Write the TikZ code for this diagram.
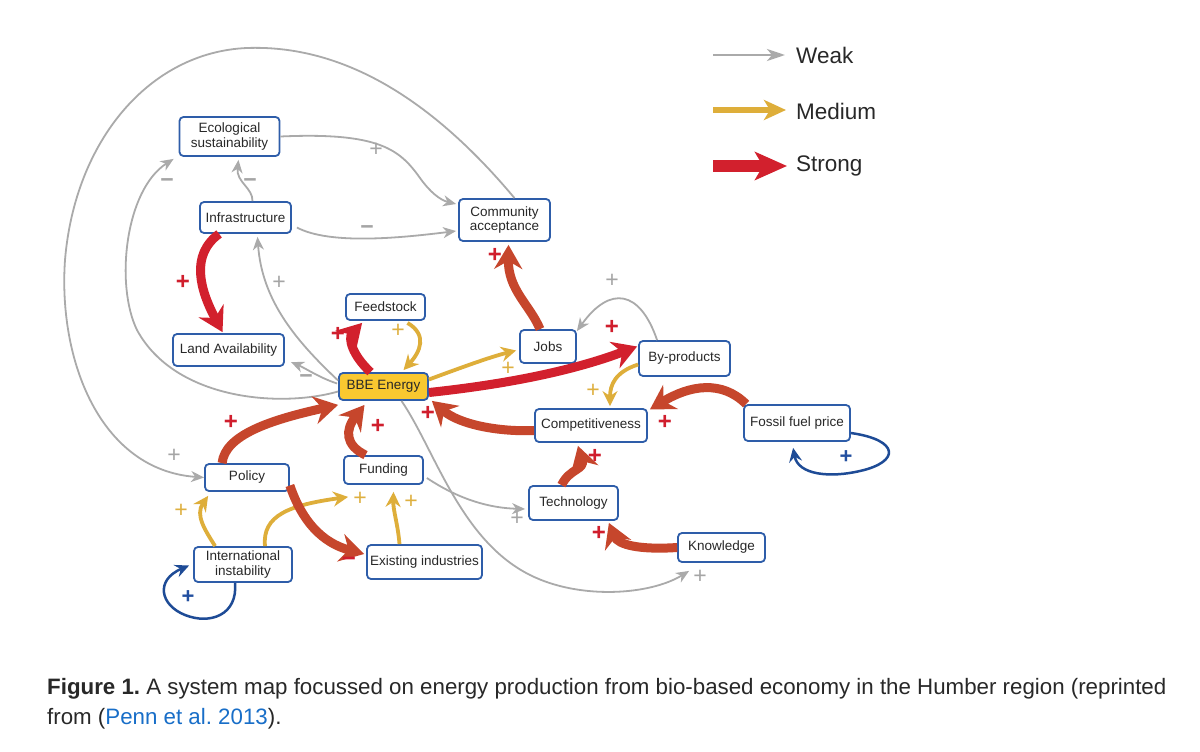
\documentclass[tikz,border=0pt]{standalone}
\usepackage{fontspec}
\setmainfont{Liberation Sans}
\usetikzlibrary{arrows.meta,calc}
\definecolor{nodeblue}{RGB}{46,93,169}
\definecolor{bbefill}{RGB}{249,200,48}
\definecolor{weakgray}{RGB}{170,170,170}
\definecolor{medgold}{RGB}{222,174,58}
\definecolor{strongred}{RGB}{210,32,45}
\definecolor{strongor}{RGB}{198,70,44}
\definecolor{loopblue}{RGB}{30,75,150}
\definecolor{textdark}{RGB}{40,40,40}
\definecolor{capgray}{RGB}{40,40,40}
\definecolor{linkblue}{RGB}{24,110,200}
\definecolor{sgray}{RGB}{165,165,165}
\definecolor{sred}{RGB}{208,30,45}
\definecolor{sgold}{RGB}{222,176,64}
\definecolor{sblue}{RGB}{35,80,160}
\tikzset{
  box/.style={draw=nodeblue, line width=1.8pt, rounded corners=4pt, fill=white, inner sep=0pt,
    align=center, text=textdark, font=\fontsize{13.5}{14.5}\selectfont},
  wk/.style={draw=weakgray, line width=1.8pt, -{Stealth[length=13pt,width=11pt,inset=4pt]}},
  md/.style={draw=medgold, line width=3.8pt, -{Stealth[length=15pt,width=15pt,inset=5pt]}},
  stR/.style={draw=strongred, line width=9pt, -{Stealth[length=24pt,width=28pt,inset=8pt]}},
  stO/.style={draw=strongor, line width=9pt, -{Stealth[length=24pt,width=28pt,inset=8pt]}},
  lp/.style={draw=loopblue, line width=2.5pt, -{Stealth[length=14pt,width=13pt,inset=5pt]}},
  sgR/.style={text=sred, inner sep=0pt, font=\fontsize{24}{24}\selectfont\bfseries},
  sgG/.style={text=sgold, inner sep=0pt, font=\fontsize{23}{23}\selectfont},
  sgW/.style={text=sgray, inner sep=0pt, font=\fontsize{23}{23}\selectfont},
  sgB/.style={text=sblue, inner sep=0pt, font=\fontsize{22}{22}\selectfont\bfseries},
  legtext/.style={anchor=west, inner sep=0pt, text=textdark, font=\fontsize{22.5}{24}\selectfont},
}
\frenchspacing
\begin{document}
\begin{tikzpicture}[x=1pt,y=-1pt]
\useasboundingbox (0,0) rectangle (1200,752);
\fill[white] (0,0) rectangle (1200,752);

% nodes
\node[box, minimum width=100pt, minimum height=39pt] (eco) at (229.5,136.5) {Ecological\\sustainability};
\node[box, minimum width=91pt, minimum height=31pt] (infra) at (245.5,217.5) {Infrastructure};
\node[box, minimum width=91pt, minimum height=42pt] (comm) at (504.5,220) {Community\\acceptance};
\node[box, minimum width=79pt, minimum height=26pt] (feed) at (385.5,307) {Feedstock};
\node[box, minimum width=111pt, minimum height=32pt] (land) at (228.5,350) {Land Availability};
\node[box, fill=bbefill, minimum width=89pt, minimum height=27pt] (bbe) at (383.5,386.5) {BBE Energy};
\node[box, minimum width=56pt, minimum height=33pt] (jobs) at (548,346.5) {Jobs};
\node[box, minimum width=91pt, minimum height=35pt] (byp) at (684.5,358.5) {By-products};
\node[box, minimum width=112pt, minimum height=33pt] (comp) at (591,425.5) {Competitiveness};
\node[box, minimum width=106pt, minimum height=36pt] (fossil) at (797,423) {Fossil fuel price};
\node[box, minimum width=89pt, minimum height=34pt] (tech) at (573.5,503) {Technology};
\node[box, minimum width=87pt, minimum height=29pt] (know) at (721.5,547.5) {Knowledge};
\node[box, minimum width=79pt, minimum height=28pt] (fund) at (383.5,470) {Funding};
\node[box, minimum width=84pt, minimum height=27pt] (policy) at (247,477.5) {Policy};
\node[box, minimum width=98pt, minimum height=35pt] (intl) at (243,564.5) {International\\instability};
\node[box, minimum width=115pt, minimum height=34pt] (exist) at (424.5,562) {Existing industries};

% weak connectors
\draw[wk] ($(comm.north)+(10,0)$) .. controls (420,85) and (330,45) .. (247,48)
   .. controls (150,52) and (75,140) .. (65,260) .. controls (58,360) and (100,470) .. (policy.west);
\draw[wk] ($(bbe.west)+(0,5)$) .. controls (280,408) and (175,400) .. (137,330)
   .. controls (115,285) and (125,190) .. ($(eco.south west)+(-5,2)$);
\draw[wk] ($(bbe.west)+(-1,-3)$) .. controls (320,378) and (305,368) .. ($(land.east)+(6,12)$);
\draw[wk] ($(bbe.west)+(0,-6)$) .. controls (295,340) and (262,300) .. ($(infra.south)+(12,3)$);
\draw[wk] ($(infra.north)+(7,0)$) .. controls (253,188) and (236,182) .. ($(eco.south)+(9,3)$);
\draw[wk] (eco.east) .. controls (380,132) and (400,150) .. (420,178)
   .. controls (430,192) and (440,200) .. ($(comm.west)+(-2,-16)$);
\draw[wk] ($(infra.east)+(5,10)$) .. controls (330,245) and (400,238) .. ($(comm.west)+(-2,11)$);
\draw[wk] ($(byp.north west)+(19,0)$) .. controls (640,290) and (610,285) .. ($(jobs.north east)+(0,2)$);
\draw[wk] ($(fund.east)+(3,8)$) .. controls (460,500) and (490,508) .. ($(tech.west)+(-3,6)$);
\draw[wk] ($(bbe.south)+(18,0)$) .. controls (435,450) and (460,540) .. (530,575)
   .. controls (580,600) and (650,595) .. ($(know.south west)+(12,8)$);

% medium connectors
\draw[md] ($(bbe.east)+(0,-7)$) .. controls (460,368) and (490,357) .. ($(jobs.west)+(-3,4)$);
\draw[md] ($(feed.south)+(22,2)$) .. controls (428,335) and (420,352) .. ($(bbe.north)+(20,-2)$);
\draw[md] ($(byp.west)+(0,6)$) .. controls (615,372) and (610,385) .. ($(comp.north)+(19,-2)$);
\draw[md] ($(intl.north west)+(22,0)$) .. controls (205,530) and (195,515) .. ($(policy.south west)+(4,4)$);
\draw[md] ($(intl.north)+(22,0)$) .. controls (262,515) and (290,505) .. ($(fund.south west)+(5,12)$);
\draw[md] ($(exist.north)+(-25,0)$) .. controls (398,525) and (393,510) .. ($(fund.south)+(10,7)$);

% strong connectors
\draw[stR] ($(infra.south west)+(20,0)$) .. controls (190,255) and (200,290) .. ($(land.north)+(-6,-1)$);
\draw[stR] ($(bbe.north)+(-13,0)$) .. controls (352,355) and (348,338) .. ($(feed.south west)+(17,2)$);
\draw[stR] ($(bbe.east)+(0,6)$) .. controls (500,385) and (570,372) .. ($(byp.west)+(-1,-12)$);
\draw[stO] ($(jobs.north)+(-8,0)$) .. controls (530,305) and (508,290) .. ($(comm.south)+(4,3)$);
\draw[stO] ($(policy.north west)+(18,0)$) .. controls (225,435) and (270,420) .. ($(bbe.south west)+(0,4)$);
\draw[stO] ($(fund.north)+(-18,0)$) .. controls (345,445) and (345,430) .. ($(bbe.south)+(-19,4)$);
\draw[stO] ($(comp.west)+(0,5)$) .. controls (500,432) and (460,425) .. ($(bbe.south east)+(3,0)$);
\draw[stO] ($(policy.east)+(0,8)$) .. controls (305,530) and (330,545) .. ($(exist.west)+(-2,-8)$);
\draw[stO] ($(tech.north)+(-12,0)$) .. controls (570,468) and (585,470) .. ($(comp.south)+(-13,3)$);
\draw[stO] (know.west) .. controls (640,550) and (618,545) .. ($(tech.south east)+(-10,2)$);
\draw[stO] ($(fossil.north west)+(3,0)$) .. controls (722,380) and (690,385) .. ($(comp.east)+(2,-16)$);

% self loops
\draw[lp] ($(fossil.east)+(0,10)$) .. controls (900,440) and (900,462) .. (860,471)
   .. controls (830,478) and (798,475) .. ($(fossil.south west)+(50,6)$);
\draw[lp] ($(intl.south)+(-8,0)$) .. controls (238,615) and (210,625) .. (185,615)
   .. controls (160,605) and (155,580) .. ($(intl.west)+(-4,1)$);

% signs
\node[sgW] (g1) at (174,456) {+};
\node[sgW] (g2) at (167,183) {\textbf{−}};
\node[sgW] (g3) at (306,379) {\textbf{−}};
\node[sgW] (g4) at (279,283) {+};
\node[sgW] (g5) at (250,183) {\textbf{−}};
\node[sgW] (g6) at (376,150) {+};
\node[sgW] (g7) at (367,230) {\textbf{−}};
\node[sgW] (g8) at (612,281) {+};
\node[sgW] (g9) at (517,519) {+};
\node[sgW] (g10) at (700,577) {+};
\node[sgG] (m1) at (508,369) {+};
\node[sgG] (m2) at (398,331) {+};
\node[sgG] (m3) at (593,391) {+};
\node[sgG] (m4) at (181,511) {+};
\node[sgG] (m5) at (360,499) {+};
\node[sgG] (m6) at (411,502) {+};
\node[sgR] (r1) at (183,282) {+};
\node[sgR] (r2) at (338,334) {+};
\node[sgR] (r3) at (612,327) {+};
\node[sgR] (r4) at (495,255) {+};
\node[sgR] (r5) at (231,422) {+};
\node[sgR] (r6) at (378,426) {+};
\node[sgR] (r7) at (428,413) {+};
\node[sgR] (r8) at (349,562) {−};
\node[sgR] (r9) at (595,456) {+};
\node[sgR] (r10) at (599,533) {+};
\node[sgR] (r11) at (665,422) {+};
\node[sgB] (b1) at (846,457) {+};
\node[sgB] (b2) at (188,597) {+};

% legend
\coordinate (lwa) at (713,55);  \coordinate (lwb) at (785,55);
\coordinate (lma) at (713,110); \coordinate (lmb) at (786,110);
\coordinate (lsa) at (713,166); \coordinate (lsb) at (787,166);
\draw[draw=weakgray, line width=2.6pt, -{Stealth[length=18pt,width=12pt,inset=5pt]}] (lwa) -- (lwb);
\draw[draw=medgold, line width=6pt, -{Stealth[length=22pt,width=20pt,inset=6pt]}] (lma) -- (lmb);
\draw[draw=strongred, line width=12pt, -{Stealth[length=32pt,width=28pt,inset=8pt]}] (lsa) -- (lsb);
\node[legtext] (lw) at (796,55) {Weak};
\node[legtext] (lm) at (796,111) {Medium};
\node[legtext] (ls) at (796,166) {Strong};

% caption
\node[anchor=base west, inner sep=0pt, text=capgray, font=\fontsize{22.3}{24}\selectfont] (cap1) at (47,694)
  {\textbf{Figure 1.} A system map focussed on energy production from bio-based economy in the Humber region (reprinted};
\node[anchor=base west, inner sep=0pt, text=capgray, font=\fontsize{22.3}{24}\selectfont] (cap2) at (47,724)
  {from (\textcolor{linkblue}{Penn et al. 2013}).};
\end{tikzpicture}
\end{document}
